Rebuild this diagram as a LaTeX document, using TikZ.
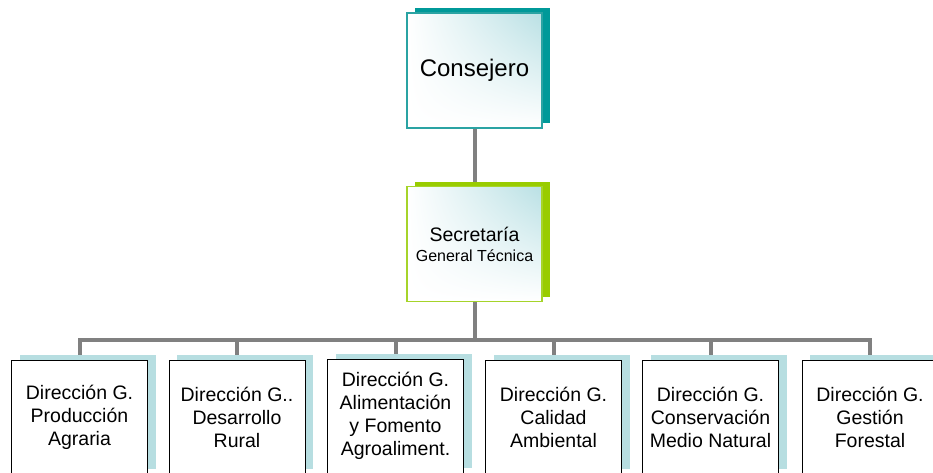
\documentclass[tikz,border=0pt]{standalone}
\usepackage{fontspec}
\setmainfont{Liberation Sans}
\usetikzlibrary{shadows,backgrounds,shadings}
\definecolor{tealsh}{HTML}{009999}
\definecolor{tealbd}{HTML}{2AA3A3}
\definecolor{limesh}{HTML}{99CC00}
\definecolor{limebd}{HTML}{A6D42A}
\definecolor{cyanl}{HTML}{B9E0E4}
\definecolor{lblue}{HTML}{B7DEE1}
\definecolor{conngray}{HTML}{808080}
\begin{document}
\begin{tikzpicture}[x=1pt,y=1pt,
  topbox/.style={minimum width=135pt, minimum height=115pt, inner sep=0pt, align=center,
    shade, upper right=cyanl, upper left=white, lower left=white, lower right=white,
    line width=1.3pt},
  consbox/.style={topbox, draw=tealbd, font=\fontsize{24}{28}\selectfont,
    drop shadow={shadow xshift=7.5pt, shadow yshift=5pt, fill=tealsh, opacity=1}},
  secbox/.style={topbox, draw=limebd, font=\fontsize{19.5}{22}\selectfont,
    drop shadow={shadow xshift=7.5pt, shadow yshift=5pt, fill=limesh, opacity=1}},
  dirbox/.style={minimum width=136pt, minimum height=114pt, inner sep=0pt, align=center,
    draw=black, fill=white, line width=1pt, font=\fontsize{19.5}{23}\selectfont,
    drop shadow={shadow xshift=8pt, shadow yshift=5pt, fill=lblue, opacity=1}},
  conn/.style={draw=conngray, line width=4pt, line join=miter}]
\useasboundingbox (0,0) rectangle (933,472);
\clip (0,0) rectangle (933,472);

\node[consbox] (cons) at (474.5,401.5) {Consejero};
\node[secbox] (sec) at (474.5,228) {Secretaría\\[-2pt]{\fontsize{16}{19}\selectfont General Técnica}};

\node[dirbox] (b1) at (79.5,55) {Dirección G.\\Producción\\Agraria};
\node[dirbox] (b2) at (237,55) {Dirección G..\\Desarrollo\\Rural};
\node[dirbox] (b3) at (395.5,56) {Dirección G.\\Alimentación\\y Fomento\\Agroaliment.};
\node[dirbox] (b4) at (553.5,55) {Dirección G.\\Calidad\\Ambiental};
\node[dirbox] (b5) at (710.5,55) {Dirección G.\\Conservación\\Medio Natural};
\node[dirbox] (b6) at (870,55) {Dirección G.\\Gestión\\Forestal};

\coordinate (bar) at (474.5,132);

\begin{scope}[on background layer]
\draw[conn] (cons.south) -- (sec.north);
\draw[conn] (sec.south) -- (sec.south |- bar);
\draw[conn] (b1.north) -- (b1.north |- bar) -- (b6.north |- bar) -- (b6.north);
\foreach \n in {b2,b3,b4,b5}{
  \draw[conn] (\n.north) -- (\n.north |- bar);
}
\end{scope}
\end{tikzpicture}
\end{document}
